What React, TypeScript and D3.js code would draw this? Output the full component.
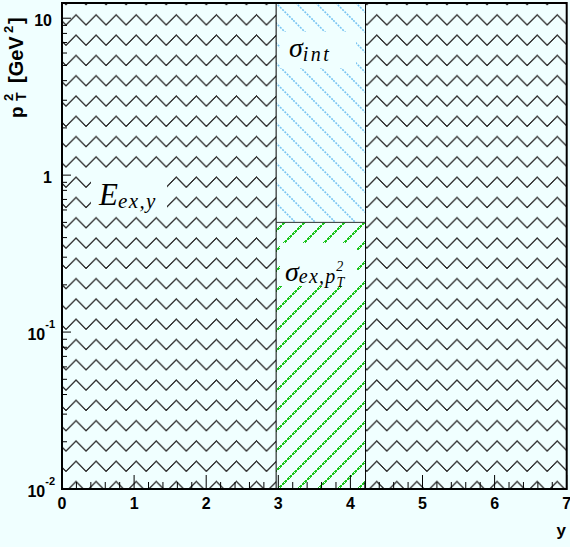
import React from 'react';
import * as d3 from 'd3';

// ---- data ----
const xDomain = [0, 7];
const yDomain = [0.01, 12.5];
const xTickValues = [0, 1, 2, 3, 4, 5, 6, 7];
const yMajorValues = [0.01, 0.1, 1, 10];
const yMajorLabels = [['10', '-2'], ['10', '-1'], ['1', ''], ['10', '']];
const zigzagRanges = [[0, 2.97], [4.21, 7]];
const sigmaRange = [2.97, 4.21];
const sigmaSplit = 0.5;

const W = 570, H = 547;
const L = 62, R = 566.7, T = 3, B = 489;
const BG = '#f0ffff';

export default function App() {
  const x = d3.scaleLinear().domain(xDomain).range([L, R]);
  const y = d3.scaleLog().domain(yDomain).range([B, T]);

  const xMinor: number[] = d3.range(0, 7.0001, 0.2).filter(v => Math.abs(v - Math.round(v)) > 1e-6);
  const yMinor: number[] = [];
  [0.01, 0.1, 1, 10].forEach(d => { for (let k = 2; k <= 9; k++) { const v = d * k; if (v <= yDomain[1]) yMinor.push(v); } });

  const font = "'Liberation Sans', Arial, sans-serif";
  const serif = "'Liberation Serif', 'Times New Roman', serif";

  return (
    <svg width={W} height={H} style={{ position: 'absolute', left: 0, top: 0 }}>
      <defs>
        <pattern id="zig" patternUnits="userSpaceOnUse" x={66} y={10} width={20.05} height={20.29}>
          <path d="M-10,5 L0,15 L10,5 L20.05,15 L30,5" fill="none" stroke="#333" strokeWidth={1} shapeRendering="crispEdges" />
        </pattern>
        <pattern id="blueH" patternUnits="userSpaceOnUse" x={13} y={0} width={20} height={20}>
          <path d="M-2,-2 L22,22 M-2,18 L2,22 M18,-2 L22,2" fill="none" stroke="#78c4f2" strokeWidth={1.6} strokeDasharray="2 1.2" />
        </pattern>
        <pattern id="greenH" patternUnits="userSpaceOnUse" x={7} y={0} width={20} height={20}>
          <path d="M-2,22 L22,-2 M-2,2 L2,-2 M18,22 L22,18" fill="none" stroke="#1ec41e" strokeWidth={1.8} strokeDasharray="2.5 1" shapeRendering="crispEdges" />
        </pattern>
      </defs>
      <rect x={0} y={0} width={W} height={H} fill={BG} />

      {zigzagRanges.map((r, i) => (
        <rect key={i} x={x(r[0])} y={T} width={x(r[1]) - x(r[0])} height={B - T} fill="url(#zig)" />
      ))}
      <rect x={x(sigmaRange[0])} y={T} width={x(sigmaRange[1]) - x(sigmaRange[0])} height={y(sigmaSplit) - T} fill="url(#blueH)" />
      <rect x={x(sigmaRange[0])} y={y(sigmaSplit)} width={x(sigmaRange[1]) - x(sigmaRange[0])} height={B - y(sigmaSplit)} fill="url(#greenH)" />

      <line x1={x(sigmaRange[0])} x2={x(sigmaRange[0])} y1={T} y2={B} stroke="#000" strokeWidth={1} />
      <line x1={x(sigmaRange[1])} x2={x(sigmaRange[1])} y1={T} y2={B} stroke="#000" strokeWidth={1} />
      <line x1={x(sigmaRange[0])} x2={x(sigmaRange[1])} y1={y(sigmaSplit)} y2={y(sigmaSplit)} stroke="#333" strokeWidth={1} />

      {/* label boxes */}
      <rect x={91} y={171} width={76} height={42} fill={BG} />
      <rect x={280} y={32} width={76} height={36} fill={BG} />
      <rect x={280} y={243} width={77} height={43} fill={BG} />

      <text x={99} y={205} fontFamily={serif} fontStyle="italic" fontSize={31}>E<tspan fontSize={21} dy={3} letterSpacing={1.4}>ex,y</tspan></text>
      <text x={289} y={57} fontFamily={serif} fontStyle="italic" fontSize={28}>σ<tspan fontSize={20} dy={4} letterSpacing={2.5}>int</tspan></text>
      <text x={285} y={281} fontFamily={serif} fontStyle="italic" fontSize={28}>σ<tspan fontSize={20} dy={2} letterSpacing={1.2}>ex,p</tspan><tspan fontSize={14} dy={4}>T</tspan><tspan fontSize={14} dx={-8} dy={-16}>2</tspan></text>

      {/* frame */}
      <rect x={L} y={T} width={R - L} height={B - T} fill="none" stroke="#000" strokeWidth={2} />

      {/* x ticks */}
      {xTickValues.map(v => (
        <g key={'xt' + v}>
          <line x1={x(v)} x2={x(v)} y1={B} y2={B - 14} stroke="#000" strokeWidth={1} />
          <text x={x(v)} y={509} textAnchor="middle" fontFamily={font} fontWeight="bold" fontSize={16}>{v}</text>
        </g>
      ))}
      {xMinor.map((v, i) => (
        <line key={'xm' + i} x1={x(v)} x2={x(v)} y1={B} y2={B - 7} stroke="#000" strokeWidth={1} />
      ))}

      {/* y ticks */}
      {yMajorValues.map((v, i) => (
        <g key={'yt' + i}>
          <line x1={L} x2={L + 9} y1={y(v)} y2={y(v)} stroke="#000" strokeWidth={1} />
          {yMajorLabels[i][1] ? (
            <text x={55} y={y(v) + 8} textAnchor="end" fontFamily={font} fontWeight="bold" fontSize={16}>{yMajorLabels[i][0]}<tspan fontSize={11} dy={-12}>{yMajorLabels[i][1]}</tspan></text>
          ) : (
            <text x={52} y={y(v) + 8} textAnchor="end" fontFamily={font} fontWeight="bold" fontSize={16}>{yMajorLabels[i][0]}</text>
          )}
        </g>
      ))}
      {yMinor.map((v, i) => (
        <line key={'ym' + i} x1={L} x2={L + 5} y1={y(v)} y2={y(v)} stroke="#000" strokeWidth={1} />
      ))}

      {/* axis titles */}
      <text x={566} y={536} textAnchor="end" fontFamily={font} fontWeight="bold" fontSize={17}>y</text>
      <g transform="translate(23,0) rotate(-90)" fontFamily={font} fontWeight="bold">
        <text x={-118} y={0} fontSize={19}>p</text>
        <text x={-101} y={3} fontSize={14}>T</text>
        <text x={-101} y={-10} fontSize={13}>2</text>
        <text x={-83} y={0} fontSize={20}>[GeV</text>
        <text x={-33} y={-10} fontSize={13}>2</text>
        <text x={-24} y={0} fontSize={20}>]</text>
      </g>
    </svg>
  );
}
